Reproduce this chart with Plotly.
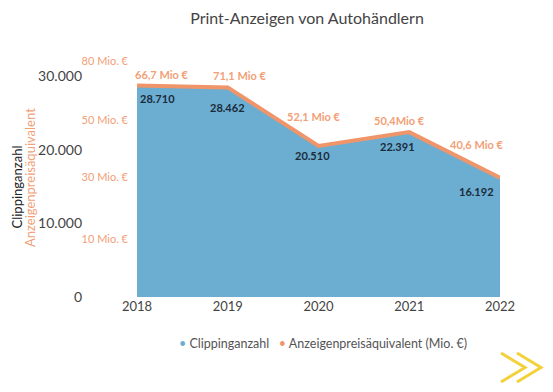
import plotly.graph_objects as go

years = ["2018", "2019", "2020", "2021", "2022"]
clippings = [28710, 28462, 20510, 22391, 16192]
clip_labels = ["28.710", "28.462", "20.510", "22.391", "16.192"]
mio_labels = ["66,7 Mio €", "71,1 Mio €", "52,1 Mio €", "50,4Mio €", "40,6 Mio €"]
left_ticks = [0, 10000, 20000, 30000]
left_ticktext = ["0", "10.000", "20.000", "30.000"]
orange_tickvals = [7830, 16240, 23980, 32020]
orange_ticktext = ["10 Mio. €", "30 Mio. €", "50 Mio. €", "80 Mio. €"]
legend_names = ["Clippinganzahl", "Anzeigenpreisäquivalent (Mio. €)"]

BLUE = "#6BAED2"
ORANGE = "#F0956A"
ORANGE_TXT = "#F2A077"
NAVY = "#1C2B3A"
FONT = "Lato"

OFF = 8  # page body margin
W, H = 553 - OFF, 392 - OFF
# plot area in window pixels
L, R, T, B = 137, 500, 54, 297
PW, PH = R - L, B - T


def px(xp):
    return (xp - L) / PW


def py(yp):
    return (B - yp) / PH


fig = go.Figure()
fig.add_trace(go.Scatter(
    x=years, y=clippings, name=legend_names[0], mode="lines",
    fill="tozeroy", fillcolor=BLUE, line=dict(color=BLUE, width=0),
    showlegend=False))
fig.add_trace(go.Scatter(
    x=years, y=clippings, name=legend_names[1], mode="lines",
    line=dict(color=ORANGE, width=4), showlegend=False))
# dummy trace for secondary axis
fig.add_trace(go.Scatter(x=[years[0]], y=[0], yaxis="y2", mode="markers",
                         marker=dict(opacity=0), showlegend=False, hoverinfo="skip"))

clip_shift = [(20, -13), (0, -20), (-6, -10), (-12, -14), (-24, -14)]
mio_shift = [(24, 11), (12, 12), (-5, 29), (-10, 12), (-24, 33)]
for i, yr in enumerate(years):
    fig.add_annotation(x=i, y=clippings[i], xref="x", yref="y",
                       text="<b>" + clip_labels[i] + "</b>", showarrow=False,
                       xshift=clip_shift[i][0], yshift=clip_shift[i][1],
                       font=dict(family=FONT, size=11, color=NAVY))
    fig.add_annotation(x=i, y=clippings[i], xref="x", yref="y",
                       text="<b>" + mio_labels[i] + "</b>", showarrow=False,
                       xshift=mio_shift[i][0], yshift=mio_shift[i][1],
                       font=dict(family=FONT, size=11, color=ORANGE_TXT))

# axis titles
fig.add_annotation(xref="paper", yref="paper", x=px(16.5), y=py(187), text="Clippinganzahl",
                   textangle=-90, showarrow=False, xanchor="center", yanchor="middle",
                   font=dict(family=FONT, size=13, color="#222"))
fig.add_annotation(xref="paper", yref="paper", x=px(30), y=py(178), text="Anzeigenpreisäquivalent",
                   textangle=-90, showarrow=False, xanchor="center", yanchor="middle",
                   font=dict(family=FONT, size=13, color=ORANGE_TXT))

# legend as text
legend_text = (f"<span style='color:{BLUE}'>•</span> {legend_names[0]}   "
               f"<span style='color:{ORANGE}'>•</span> {legend_names[1]}")
fig.add_annotation(xref="paper", yref="paper", x=px(323), y=py(343), text=legend_text,
                   showarrow=False, xanchor="center", yanchor="middle",
                   font=dict(family=FONT, size=12.5, color="#555"))

# logo (decorative chevrons)
for x0 in (501, 517):
    fig.add_shape(type="path", xref="paper", yref="paper",
                  path=(f"M {px(x0):.4f} {py(353):.4f} L {px(x0 + 24):.4f} {py(367.5):.4f} "
                        f"L {px(x0):.4f} {py(382):.4f}"),
                  line=dict(color="#F3D13A", width=3))

fig.update_layout(
    width=W, height=H,
    margin=dict(l=L - OFF, r=553 - R, t=T - OFF, b=392 - B, autoexpand=False),
    plot_bgcolor="white", paper_bgcolor="white",
    showlegend=False,
    title=dict(text="Print-Anzeigen von Autohändlern", x=(307 - OFF) / W, xanchor="center",
               y=1 - (18 - OFF) / H, yanchor="middle",
               font=dict(family=FONT, size=16, color="#444")),
    xaxis=dict(type="category", range=[0, 4], showgrid=False, zeroline=False,
               showline=False, ticks="", automargin=False,
               tickfont=dict(family=FONT, size=13, color="#444")),
    yaxis=dict(range=[0, 33000], tickvals=left_ticks, ticktext=left_ticktext,
               showgrid=False, zeroline=False, showline=False, ticks="",
               ticklabelstandoff=54, automargin=False,
               tickfont=dict(family=FONT, size=14, color="#444")),
    yaxis2=dict(range=[0, 33000], overlaying="y", side="left", tickvals=orange_tickvals,
                ticktext=orange_ticktext, showgrid=False, zeroline=False, showline=False,
                ticks="", ticklabelstandoff=8, automargin=False,
                tickfont=dict(family=FONT, size=11, color=ORANGE_TXT)),
)

fig.write_html("out.html")
